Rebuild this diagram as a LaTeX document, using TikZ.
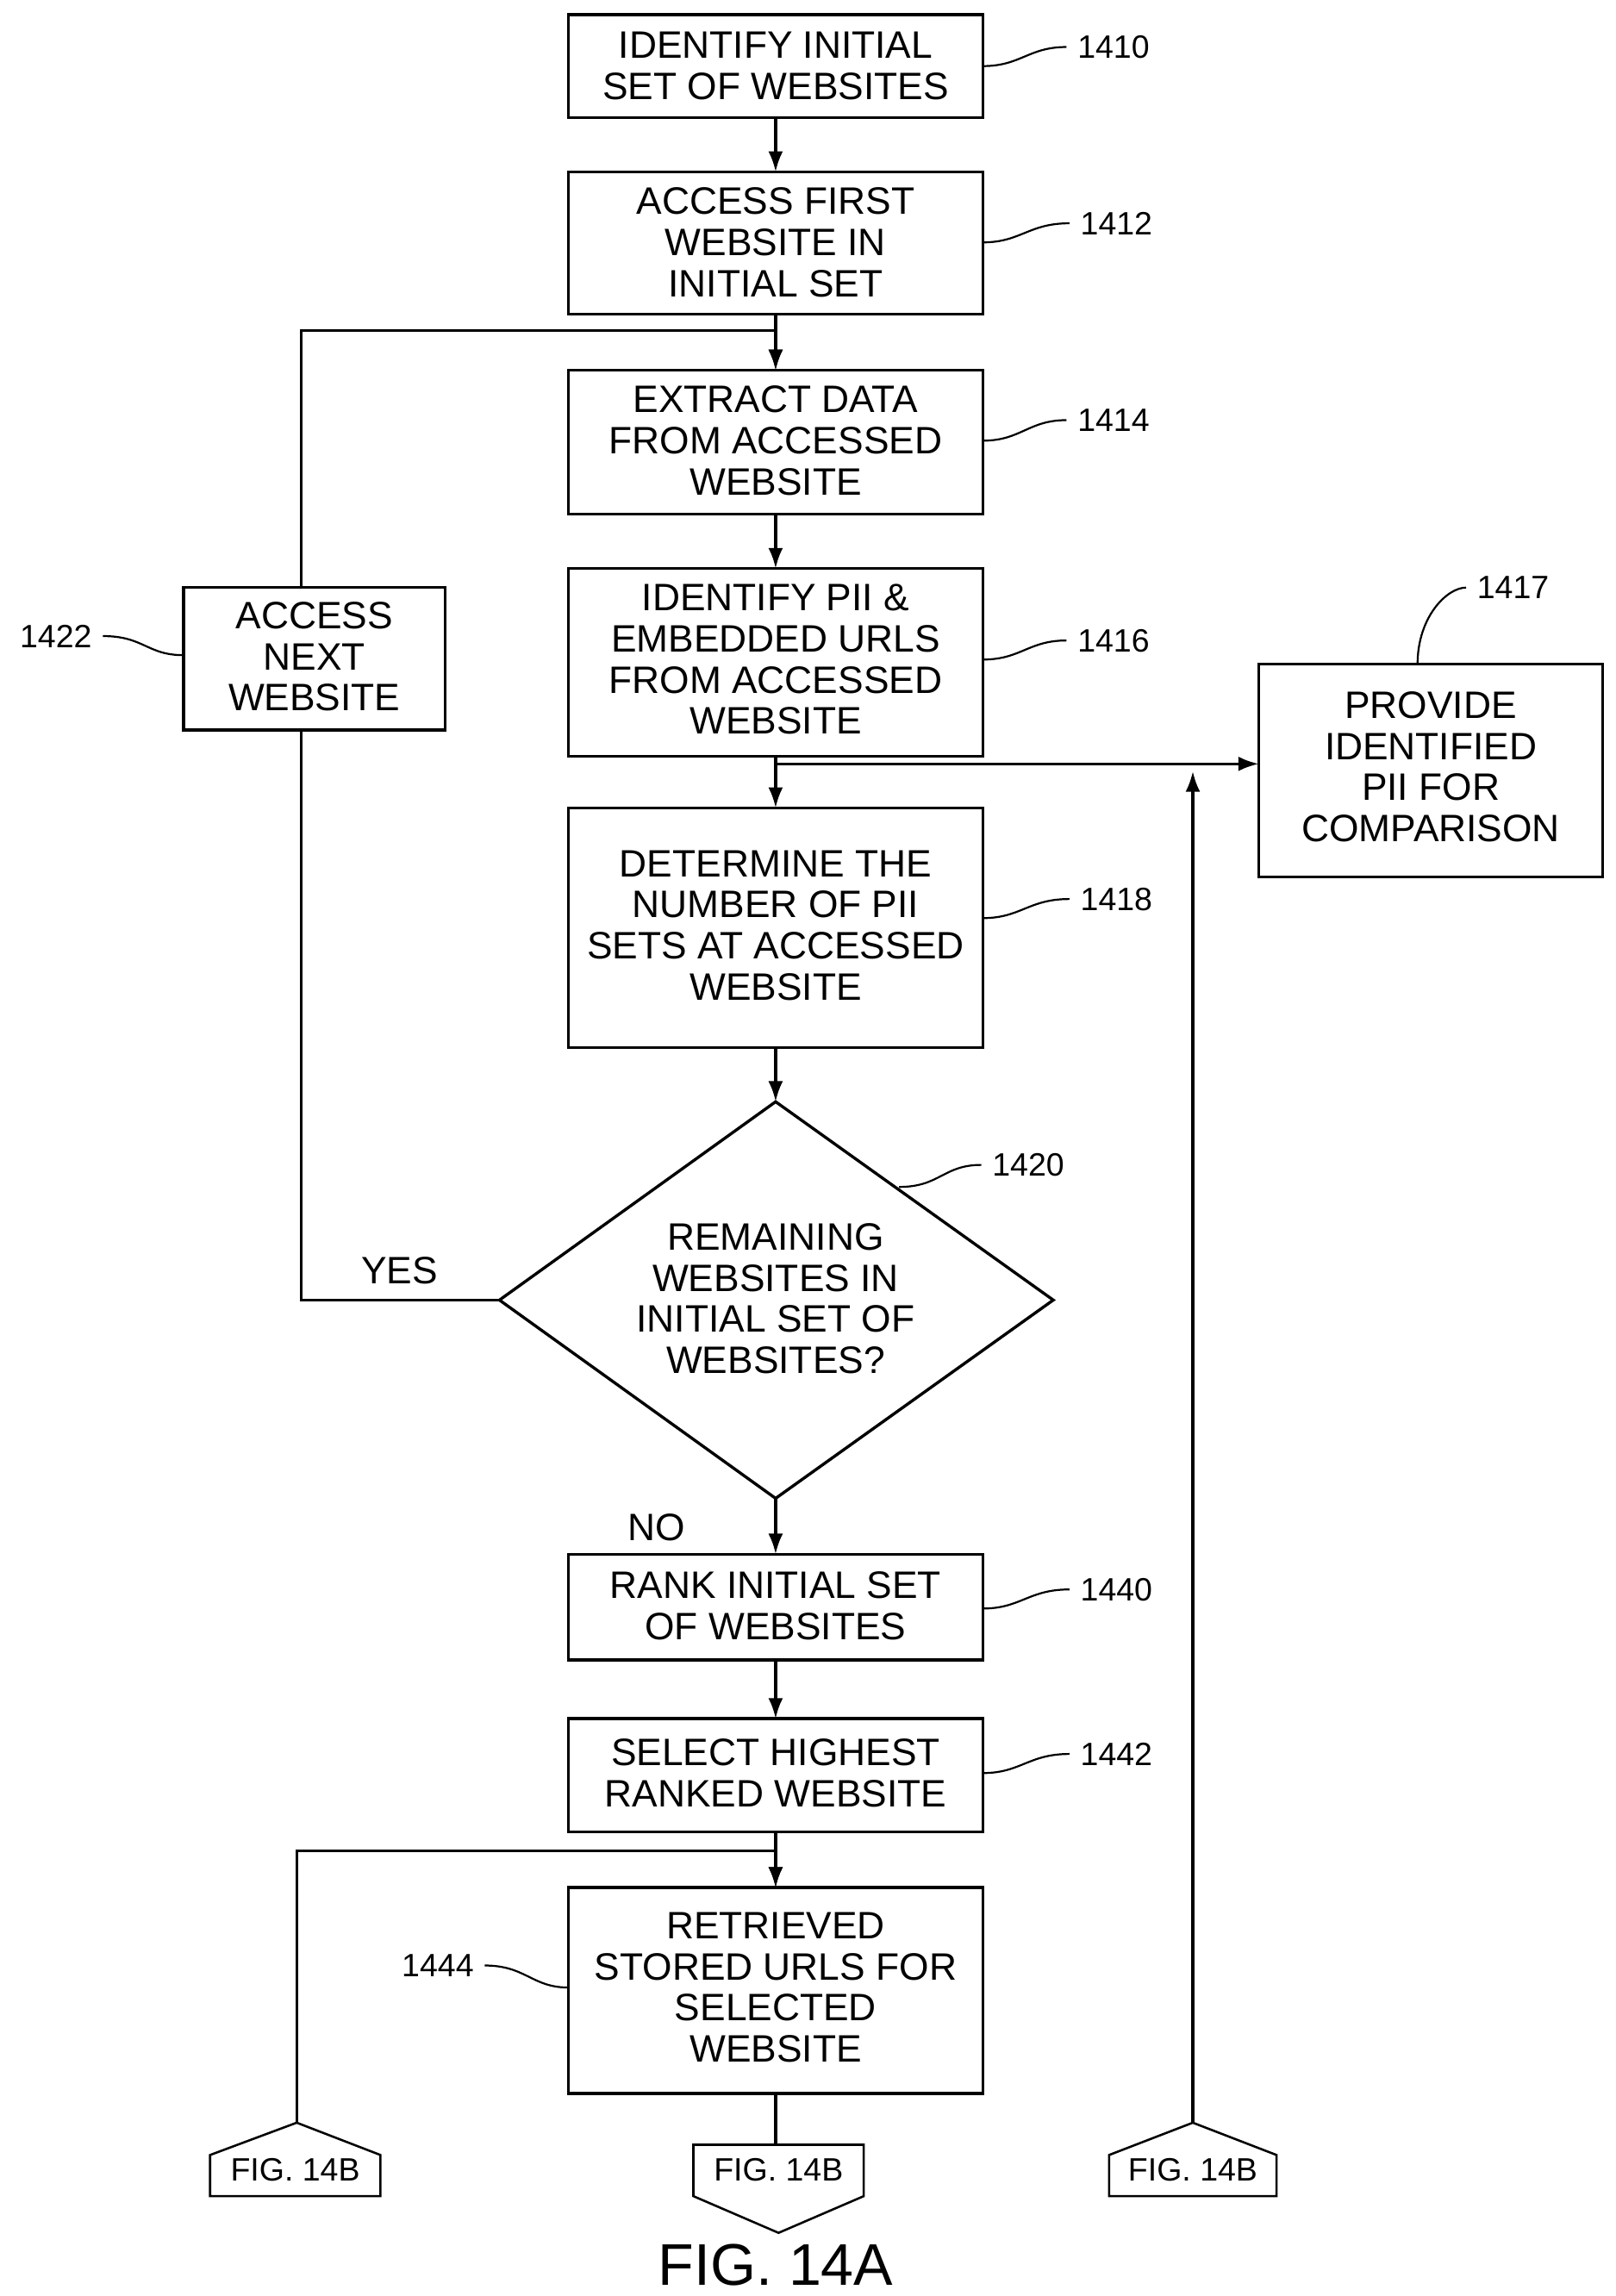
\documentclass[tikz,border=0pt]{standalone}
\usepackage{fontspec}
\setmainfont{Liberation Sans}
\usetikzlibrary{arrows.meta}
\begin{document}
\begin{tikzpicture}[x=1pt,y=-1pt,
  box/.style={draw,line width=2pt,inner sep=0pt},
  txt/.style={font=\fontsize{26}{28}\selectfont,align=center},
  lab/.style={font=\fontsize{22}{24}\selectfont},
  ar/.style={line width=2pt,-{Latex[length=14pt,width=10pt]}},
  ln/.style={line width=2pt},
  sq/.style={line width=1.3pt}]
\useasboundingbox (0,0) rectangle (1100,1563);
% boxes
\draw[box] (387,10) rectangle (669,80); \node[txt] (b10) at (528,45) {IDENTIFY INITIAL\\SET OF WEBSITES};
\coordinate (b10t) at (528,10); \coordinate (b10b) at (528,80);
\draw[box] (387,117) rectangle (669,214); \node[txt] (b12) at (528,165) {ACCESS FIRST\\WEBSITE IN\\INITIAL SET};
\draw[box] (387,252) rectangle (669,350); \node[txt] (b14) at (528,300) {EXTRACT DATA\\FROM ACCESSED\\WEBSITE};
\draw[box] (387,387) rectangle (669,515); \node[txt] (b16) at (528,449) {IDENTIFY PII \&\\EMBEDDED URLS\\FROM ACCESSED\\WEBSITE};
\draw[box] (387,550) rectangle (669,713); \node[txt] (b18) at (528,630) {DETERMINE THE\\NUMBER OF PII\\SETS AT ACCESSED\\WEBSITE};
\draw[box] (528,750) -- (717,885) -- (528,1020) -- (340,885) -- cycle;
\node[txt] (d20) at (528,884) {REMAINING\\WEBSITES IN\\INITIAL SET OF\\WEBSITES?};
\draw[box] (387,1058) rectangle (669,1130); \node[txt] (b40) at (528,1093) {RANK INITIAL SET\\OF WEBSITES};
\draw[box] (387,1170) rectangle (669,1247); \node[txt] (b42) at (528,1207) {SELECT HIGHEST\\RANKED WEBSITE};
\draw[box] (387,1285) rectangle (669,1425); \node[txt] (b44) at (528,1353) {RETRIEVED\\STORED URLS FOR\\SELECTED\\WEBSITE};
\draw[box] (125,400) rectangle (303,497); \node[txt] (b22) at (214,447) {ACCESS\\NEXT\\WEBSITE};
\draw[box] (857,452) rectangle (1091,597); \node[txt] (b17) at (974,522) {PROVIDE\\IDENTIFIED\\PII FOR\\COMPARISON};
% connectors
\draw[ar] (528,80) -- (528,117);
\draw[ar] (528,214) -- (528,252);
\draw[ar] (528,350) -- (528,387);
\draw[ar] (528,515) -- (528,550);
\draw[ar] (528,713) -- (528,750);
\draw[ar] (528,1020) -- (528,1058);
\draw[ar] (528,1130) -- (528,1170);
\draw[ar] (528,1247) -- (528,1285);
\draw[ln] (340,885) -- (205,885) -- (205,497);
\draw[ar] (205,400) -- (205,225) -- (528,225) -- (528,252);
\draw[ar] (528,520) -- (857,520);
\draw[ar] (812,1445) -- (812,525);
\draw[ar] (202,1445) -- (202,1260) -- (528,1260) -- (528,1285);
\draw[ln] (528,1425) -- (528,1460);
\node[txt] (yes) at (272,865) {YES};
\node[txt] (no) at (447,1040) {NO};
% off-page connectors
\tikzset{op/.style={draw,line width=1.5pt,fill=white}}
\draw[op] (143,1495) -- (143,1467) -- (202,1445) -- (259,1467) -- (259,1495) -- cycle;
\node[lab] (c1) at (201,1477) {FIG. 14B};
\draw[op] (472,1460) -- (588,1460) -- (588,1495) -- (530,1520) -- (472,1495) -- cycle;
\node[lab] (c2) at (530,1477) {FIG. 14B};
\draw[op] (755,1495) -- (755,1467) -- (812,1445) -- (869,1467) -- (869,1495) -- cycle;
\node[lab] (c3) at (812,1477) {FIG. 14B};
% reference labels
\node[lab] at (758,32) {1410};
\draw[sq] (669,45) .. controls (695,45) and (700,32) .. (726,32);
\node[lab] at (760,152) {1412};
\draw[sq] (669,165) .. controls (695,165) and (700,152) .. (728,152);
\node[lab] at (758,286) {1414};
\draw[sq] (669,300) .. controls (695,300) and (700,286) .. (726,286);
\node[lab] at (758,436) {1416};
\draw[sq] (669,449) .. controls (695,449) and (700,436) .. (726,436);
\node[lab] at (760,612) {1418};
\draw[sq] (669,625) .. controls (695,625) and (700,612) .. (728,612);
\node[lab] at (700,793) {1420};
\draw[sq] (612,808) .. controls (640,808) and (642,793) .. (668,793);
\node[lab] at (760,1082) {1440};
\draw[sq] (669,1095) .. controls (695,1095) and (700,1082) .. (728,1082);
\node[lab] at (760,1194) {1442};
\draw[sq] (669,1207) .. controls (695,1207) and (700,1194) .. (728,1194);
\node[lab] at (298,1338) {1444};
\draw[sq] (330,1338) .. controls (358,1338) and (362,1353) .. (387,1353);
\node[lab] at (38,433) {1422};
\draw[sq] (70,433) .. controls (98,433) and (100,446) .. (125,446);
\node[lab] at (1030,400) {1417};
\draw[sq] (965,452) .. controls (965,420) and (985,400) .. (998,400);
\node[font=\fontsize{40}{42}\selectfont] (fig) at (528,1542) {FIG. 14A};
\end{tikzpicture}
\end{document}
